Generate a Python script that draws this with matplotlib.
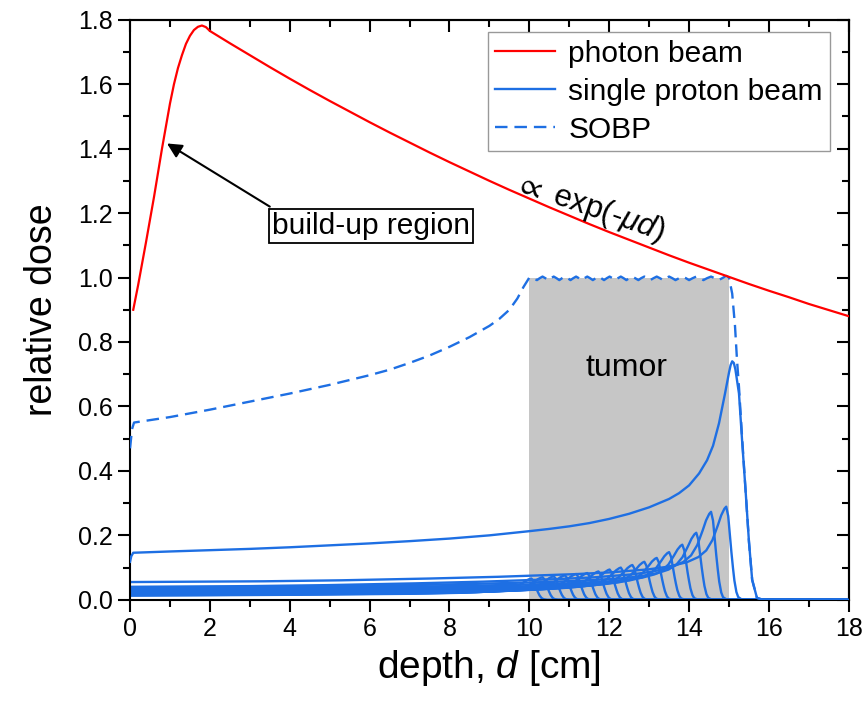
import matplotlib
matplotlib.use("Agg")
import matplotlib.pyplot as plt
import numpy as np
from matplotlib.patches import Rectangle
from matplotlib.ticker import MultipleLocator

plt.rcParams['font.family'] = ['Liberation Sans', 'DejaVu Sans']
plt.rcParams['mathtext.fontset'] = 'custom'
plt.rcParams['mathtext.rm'] = 'Liberation Sans'
plt.rcParams['mathtext.it'] = 'Liberation Sans:italic'
plt.rcParams['mathtext.fallback'] = 'stixsans'
plt.rcParams['lines.scale_dashes'] = False

# photon beam depth dose
photon_x = [0.08, 0.2, 0.4, 0.6, 0.8, 0.9, 1.0, 1.1, 1.2, 1.3, 1.4, 1.5, 1.6, 1.7, 1.8, 1.9,
            2.0, 2.5, 3.0, 3.5, 4.0, 4.5, 5.0, 5.5, 6.0, 6.5, 7.0, 7.5, 8.0, 8.5, 9.0, 9.5,
            10.0, 10.5, 11.0, 11.5, 12.0, 12.5, 13.0, 13.5, 14.0, 14.5, 15.0, 15.5, 16.0,
            16.5, 17.0, 17.5, 18.0]
photon_y = [0.90, 0.975, 1.11, 1.25, 1.40, 1.47, 1.54, 1.60, 1.65, 1.69, 1.725, 1.75, 1.768,
            1.778, 1.782, 1.777, 1.765, 1.727, 1.690, 1.653, 1.617, 1.582, 1.548, 1.515,
            1.482, 1.450, 1.419, 1.388, 1.358, 1.329, 1.300, 1.272, 1.245, 1.218, 1.192,
            1.166, 1.141, 1.117, 1.093, 1.069, 1.046, 1.024, 1.002, 0.980, 0.959, 0.939,
            0.918, 0.899, 0.880]

# deepest (largest) proton beam
big_x = [0.0, 0.03, 0.08, 1, 2, 3, 4, 5, 6, 7, 8, 9, 10, 10.5, 11, 11.5, 12, 12.5, 13, 13.5,
         13.75, 14.0, 14.25, 14.45, 14.6, 14.75, 14.9, 15.0, 15.04, 15.08, 15.12, 15.16,
         15.25, 15.33, 15.42, 15.5, 15.58, 15.7, 15.85, 18]
big_y = [0.118, 0.135, 0.146, 0.150, 0.154, 0.158, 0.163, 0.169, 0.175, 0.182, 0.190, 0.200,
         0.213, 0.220, 0.228, 0.238, 0.251, 0.267, 0.287, 0.313, 0.331, 0.355, 0.392, 0.433,
         0.478, 0.548, 0.640, 0.705, 0.728, 0.740, 0.735, 0.715, 0.64, 0.49, 0.33, 0.18,
         0.062, 0.006, 0.0, 0.0]

# smaller proton beams: peak depth, peak dose, entrance dose
peak_depth = [10.05, 10.33, 10.61, 10.89, 11.17, 11.45, 11.73, 12.01, 12.29, 12.58, 12.88,
              13.19, 13.5, 13.83, 14.18, 14.55, 14.93]
peak_dose = [0.066, 0.070, 0.073, 0.076, 0.080, 0.083, 0.088, 0.094, 0.100, 0.108, 0.118,
             0.130, 0.148, 0.171, 0.208, 0.273, 0.289]
entrance_dose = [0.012, 0.013, 0.014, 0.015, 0.016, 0.017, 0.018, 0.019, 0.020, 0.022, 0.024,
                 0.026, 0.029, 0.033, 0.037, 0.040, 0.055]

# shape of a small beam
small_s = [0, 0.05, 0.13, 0.23, 0.35, 0.5, 0.7, 1.0, 1.5, 2, 3, 4, 6, 8, 10, 12, 15.1]
small_g = [1.0, 0.97, 0.88, 0.72, 0.55, 0.42, 0.33, 0.26, 0.20, 0.165, 0.125, 0.10, 0.065,
           0.04, 0.02, 0.008, 0.0]
fall_u = [0, 0.05, 0.1, 0.15, 0.2, 0.25, 0.3, 0.38, 0.5]
fall_r = [1.0, 0.9, 0.65, 0.42, 0.22, 0.09, 0.03, 0.005, 0.0]

# spread-out Bragg peak
sobp_x = [0.0, 0.05, 0.1, 1, 2, 3, 4, 5, 6, 6.5, 7, 7.5, 8, 8.5, 9, 9.25, 9.5, 9.7, 9.85,
          10.0, 10.1, 10.19, 10.26, 10.33, 10.4, 10.47, 10.54, 10.61, 10.68, 10.75, 10.82,
          10.89, 10.96, 11.03, 11.1, 11.17, 11.24, 11.31, 11.38, 11.45, 11.52, 11.59, 11.66,
          11.73, 11.8, 11.87, 11.94, 12.01, 12.08, 12.15, 12.22, 12.29, 12.36, 12.43, 12.5,
          12.58, 12.65, 12.73, 12.8, 12.88, 12.95, 13.03, 13.11, 13.19, 13.27, 13.35, 13.42,
          13.5, 13.58, 13.66, 13.75, 13.83, 13.92, 14.0, 14.09, 14.18, 14.27, 14.36, 14.45,
          14.55, 14.64, 14.74, 14.83, 14.93, 15.0, 15.08, 15.15, 15.2, 15.25, 15.33, 15.42,
          15.5, 15.58, 15.7, 15.85, 18]
sobp_y = [0.47, 0.53, 0.55, 0.567, 0.59, 0.615, 0.64, 0.667, 0.697, 0.714, 0.735, 0.758,
          0.785, 0.815, 0.85, 0.872, 0.90, 0.935, 0.97, 1.0,
          0.997, 0.992, 0.998, 1.003, 0.998, 0.992, 0.998, 1.003, 0.998, 0.992, 0.998, 1.003,
          0.998, 0.992, 0.998, 1.003, 0.998, 0.992, 0.998, 1.003, 0.998, 0.992, 0.998, 1.003,
          0.998, 0.992, 0.998, 1.003, 0.998, 0.992, 0.998, 1.003, 0.998, 0.992, 0.998, 1.003,
          0.998, 0.992, 0.998, 1.003, 0.998, 0.992, 0.998, 1.003, 0.998, 0.992, 0.998, 1.003,
          0.998, 0.992, 0.998, 1.003, 0.998, 0.992, 0.998, 1.003, 0.998, 0.992, 0.998, 1.003,
          0.998, 0.992, 0.998, 1.005,
          1.0, 0.95, 0.85, 0.745, 0.66, 0.50, 0.33, 0.18, 0.062, 0.006, 0.0, 0.0]

tumor_start, tumor_end, tumor_top = 10.0, 15.0, 1.0

red = '#ff0000'
blue = '#1e6fe3'

fig = plt.figure(figsize=(8.67, 7.04), dpi=100)
ax = fig.add_axes([0.150, 0.148, 0.829, 0.824])

ax.add_patch(Rectangle((tumor_start, 0), tumor_end - tumor_start, tumor_top,
                       facecolor='#c6c6c6', edgecolor='none', zorder=1))

x = np.linspace(0, 18, 3601)
for pk, ph, e in zip(peak_depth, peak_dose, entrance_dose):
    rise = e + (ph - e) * np.interp(pk - x, small_s, small_g)
    fall = ph * np.interp(x - pk, fall_u, fall_r)
    ax.plot(x, np.where(x <= pk, rise, fall), color=blue, lw=1.7, zorder=2)

ax.plot(big_x, big_y, color=blue, lw=1.7, zorder=3, label='single proton beam')
ax.plot(sobp_x, sobp_y, color=blue, lw=1.7, ls=(0, (9, 5)), zorder=3, label='SOBP')
ax.plot(photon_x, photon_y, color=red, lw=1.6, zorder=4, label='photon beam')

ax.set_xlim(0, 18)
ax.set_ylim(0, 1.8)
ax.xaxis.set_major_locator(MultipleLocator(2))
ax.xaxis.set_minor_locator(MultipleLocator(1))
ax.yaxis.set_major_locator(MultipleLocator(0.2))
ax.yaxis.set_minor_locator(MultipleLocator(0.1))
ax.yaxis.set_major_formatter(lambda v, p: f"{v:.1f}")
ax.tick_params(which='both', direction='out', width=1.5, labelsize=18, pad=4)
ax.tick_params(which='major', length=8.5)
ax.tick_params(which='minor', length=5)
for sp in ax.spines.values():
    sp.set_linewidth(1.5)

top = ax.secondary_xaxis('top')
top.xaxis.set_major_locator(MultipleLocator(2))
top.xaxis.set_minor_locator(MultipleLocator(1))
top.tick_params(which='both', direction='in', width=1.5, labeltop=False)
top.tick_params(which='major', length=8.5)
top.tick_params(which='minor', length=5)
right = ax.secondary_yaxis('right')
right.yaxis.set_major_locator(MultipleLocator(0.2))
right.yaxis.set_minor_locator(MultipleLocator(0.1))
right.tick_params(which='both', direction='in', width=1.5, labelright=False)
right.tick_params(which='major', length=8.5)
right.tick_params(which='minor', length=5)
for s in (top, right):
    for sp in s.spines.values():
        sp.set_linewidth(1.5)

ax.set_xlabel(r"depth, $\mathit{d}$ [cm]", fontsize=28, labelpad=5)
ax.set_ylabel("relative dose", fontsize=27, labelpad=13)

handles, labels = ax.get_legend_handles_labels()
order = [labels.index('photon beam'), labels.index('single proton beam'), labels.index('SOBP')]
leg = ax.legend([handles[i] for i in order], [labels[i] for i in order],
                loc='upper right', bbox_to_anchor=(0.974, 0.978), borderaxespad=0,
                fontsize=21.5, frameon=True, fancybox=False, handlelength=2.0,
                handletextpad=0.45, labelspacing=0.33, borderpad=0.25)
leg.get_frame().set_edgecolor('#808080')
leg.get_frame().set_linewidth(1.0)

ax.text(12.43, 0.72, "tumor", fontsize=23, ha='center', va='center', zorder=5)
ax.text(11.5, 1.217, r"$\propto$ exp(-$\mathit{\mu d}$)", fontsize=22.5, rotation=-19,
        ha='center', va='center', zorder=5)

ax.annotate('', xy=(0.925, 1.416), xytext=(3.5, 1.22),
            arrowprops=dict(arrowstyle='-|>', color='black', lw=1.5, shrinkA=0, shrinkB=0,
                            mutation_scale=22), zorder=5)
ax.text(6.03, 1.16, "build-up region", fontsize=21.5, ha='center', va='center', zorder=6,
        bbox=dict(boxstyle='square,pad=0.1', fc='white', ec='black', lw=1.3))

fig.savefig('out.png', dpi=100)
